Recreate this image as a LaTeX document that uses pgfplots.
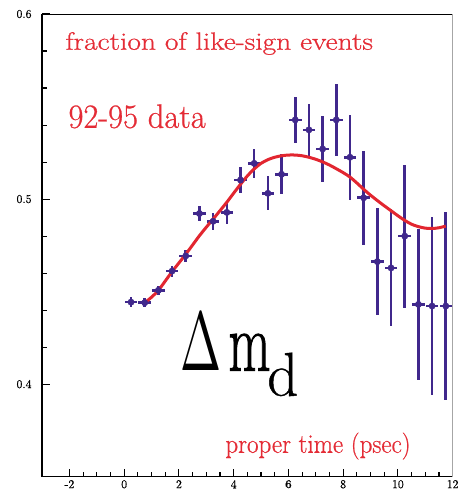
\documentclass[border=0pt]{standalone}
\usepackage{fontspec}
\newfontfamily\heavy{Latin Modern Roman}[FakeBold=0.7]
\newfontfamily\heavier{Latin Modern Roman}[FakeBold=1.4]
\usepackage{graphicx}
\usepackage{pgfplots}
\usepackage{pgfplotstable}
\pgfplotsset{compat=1.18}

\definecolor{fitred}{RGB}{226,38,48}
\definecolor{txtred}{RGB}{228,44,54}
\definecolor{datapurple}{RGB}{64,40,140}

% measured like-sign fraction per 0.5 ps bin
\pgfplotstableread{
t     f       e
0.25  0.4443  0.0026
0.75  0.4440  0.0023
1.25  0.4507  0.0024
1.75  0.4611  0.0030
2.25  0.4693  0.0032
2.75  0.4922  0.0040
3.25  0.4880  0.0045
3.75  0.4928  0.0060
4.25  0.5103  0.0070
4.75  0.5193  0.0080
5.25  0.5031  0.0092
5.75  0.5134  0.0108
6.25  0.5428  0.0126
6.75  0.5374  0.0142
7.25  0.5271  0.0179
7.75  0.5428  0.0196
8.25  0.5226  0.0230
8.75  0.5007  0.0255
9.25  0.4662  0.0290
9.75  0.4628  0.0316
10.25 0.4800  0.0386
10.75 0.4431  0.0410
11.25 0.4422  0.0480
11.75 0.4422  0.0508
}\datatable

% fitted oscillation curve
\pgfplotstableread{
t     f
0.75  0.4440
1.00  0.4470
1.25  0.4507
1.50  0.4557
1.75  0.4608
2.00  0.4655
2.25  0.4702
2.50  0.4752
2.75  0.4802
3.00  0.4848
3.25  0.4892
3.50  0.4937
3.75  0.4983
4.00  0.5032
4.25  0.5080
4.50  0.5125
4.75  0.5163
5.00  0.5193
5.25  0.5213
5.50  0.5226
5.75  0.5234
6.00  0.5238
6.25  0.5238
6.50  0.5234
6.75  0.5226
7.00  0.5215
7.25  0.5201
7.50  0.5184
7.75  0.5164
8.00  0.5143
8.25  0.5119
8.50  0.5087
8.75  0.5053
9.00  0.5021
9.25  0.4992
9.50  0.4964
9.75  0.4937
10.00 0.4910
10.25 0.4885
10.50 0.4864
10.75 0.4851
11.00 0.4843
11.25 0.4841
11.50 0.4845
11.75 0.4854
}\fittable

\begin{document}
\begin{tikzpicture}
\begin{axis}[
  scale only axis,
  width=410bp, height=462bp,
  xmin=-3, xmax=12, ymin=0.35, ymax=0.6,
  xtick={-2,0,2,4,6,8,10,12},
  xticklabels={-2,0,2,4,\textbf{6},8,10,12},
  ytick={0.4,0.5,0.6},
  yticklabels={0.4,0.5,0.6},
  minor x tick num=3, minor y tick num=4,
  tick pos=left, tick align=inside,
  major tick length=8bp, minor tick length=4.5bp,
  every tick/.style={black, line width=1.1bp},
  axis line style={draw=none},
  tick label style={font=\fontsize{12}{12}\selectfont\heavy},
  yticklabel style={xshift=-7bp},
  /pgf/number format/assume math mode=true,
  clip=false,
]
% frame: heavy left and bottom, thin top, grey right
\draw[black, line width=1.5bp] (rel axis cs:0,1) -- (rel axis cs:0,0) -- (rel axis cs:1,0);
\draw[black, line width=1bp] (rel axis cs:0,1) -- (rel axis cs:1,1);
\draw[gray!70, line width=1.5bp] (rel axis cs:1,1) -- (rel axis cs:1,0);

\addplot[datapurple, only marks, mark=*, mark size=3.2bp,
  mark options={fill=datapurple, draw=datapurple},
  error bars/.cd,
    x dir=both, x fixed=0.23,
    y dir=both, y explicit,
    error mark=none,
    error bar style={line width=2.6bp, datapurple}]
  table[x=t, y=f, y error=e] {\datatable};

\addplot[fitred, line width=3bp, smooth, no markers] table[x=t, y=f] {\fittable};

\node[anchor=base west, inner sep=0, text=txtred, font=\fontsize{25}{25}\selectfont\heavy]
  at (axis cs:-2.15,0.5807) {\resizebox{307bp}{\height}{fraction of like-sign events}};
\node[anchor=base west, inner sep=0, text=txtred, font=\fontsize{34}{34}\selectfont\heavy]
  at (axis cs:-2.04,0.5385) {\resizebox{137bp}{\height}{92-95 data}};
\node[anchor=base west, inner sep=0]
  at (axis cs:2.04,0.4073) {\resizebox{41bp}{57bp}{$\Delta$}};
\node[anchor=base west, inner sep=0, font=\fontsize{84}{84}\selectfont\heavier]
  at (axis cs:3.80,0.4073) {\resizebox{42bp}{\height}{m}};
\node[anchor=base west, inner sep=0, font=\fontsize{62}{62}\selectfont\heavy]
  at (axis cs:5.22,0.3938) {\resizebox{31bp}{\height}{d}};
\node[anchor=base west, inner sep=0, text=txtred, font=\fontsize{27}{27}\selectfont\heavy]
  at (axis cs:3.69,0.3629) {\resizebox{185bp}{\height}{proper time (psec)}};
\end{axis}
\pgfresetboundingbox
\path[use as bounding box]
  ([xshift=-42bp,yshift=-18.3bp]current axis.south west)
  rectangle ([xshift=6bp,yshift=14bp]current axis.north east);
\end{tikzpicture}
\end{document}
